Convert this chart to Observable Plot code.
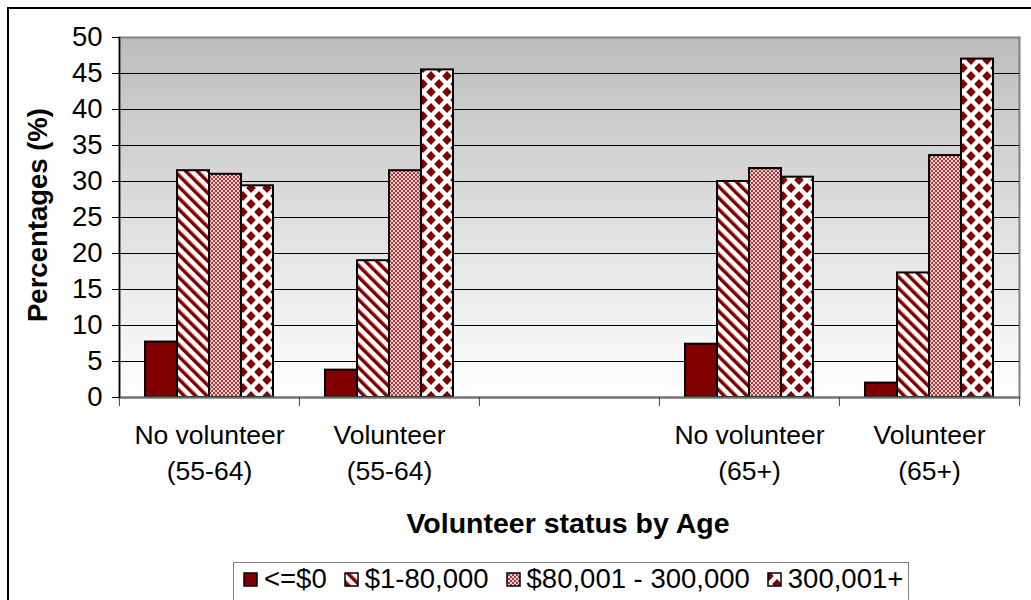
<!DOCTYPE html>
<html><head><meta charset="utf-8">
<script src="https://cdn.jsdelivr.net/npm/d3@7"></script>
<script src="https://cdn.jsdelivr.net/npm/@observablehq/plot@0.6"></script>
<style>
body{margin:0;background:#fff;font-family:"Liberation Sans",Arial,sans-serif;}
#wrap{position:relative;width:1031px;height:600px;overflow:hidden;background:#fff;}
#border{position:absolute;left:7px;top:7px;width:1200px;height:800px;border-left:2px solid #000;border-top:2px solid #000;}
#chart{position:absolute;left:0;top:0;}
#ytitle{position:absolute;left:38px;top:215px;transform:translate(-50%,-50%) rotate(-90deg);font-weight:bold;font-size:27.5px;white-space:nowrap;}
#xtitle{position:absolute;left:568px;top:523px;transform:translate(-50%,-50%);font-weight:bold;font-size:28.5px;white-space:nowrap;}
#legend{position:absolute;left:233px;top:562px;width:676px;height:60px;border:1px solid #808080;box-sizing:border-box;display:flex;align-items:flex-start;padding:1px 0 0 9px;background:#fff;}
.item{display:flex;align-items:center;height:30px;font-size:27.5px;margin-right:17px;white-space:nowrap;}
.item svg{margin-right:6px;}
</style></head>
<body>
<svg width="0" height="0" style="position:absolute">
<defs>
<linearGradient id="bgGrad" x1="0" y1="0" x2="0" y2="1">
<stop offset="0" stop-color="#bdbdbd"/><stop offset="1" stop-color="#ffffff"/>
</linearGradient>
<pattern id="stripes" patternUnits="userSpaceOnUse" width="8" height="8" patternTransform="rotate(-45)">
<rect width="8" height="8" fill="#fff"/><rect width="3.5" height="8" fill="#800000"/>
</pattern>
<pattern id="checker" patternUnits="userSpaceOnUse" width="4" height="4">
<rect x="0" y="0" width="4" height="4" fill="#ecd0d0"/>
<rect x="0" y="0" width="2" height="2" fill="#a83c3c"/>
<rect x="2" y="2" width="2" height="2" fill="#a83c3c"/>
</pattern>
<pattern id="diamonds" patternUnits="userSpaceOnUse" width="16" height="16" x="2" y="4">
<rect width="16" height="16" fill="#fff"/>
<path d="M0,-5L4.8,0L0,5L-4.8,0Z M16,-5L20.8,0L16,5L11.2,0Z M0,11L4.8,16L0,21L-4.8,16Z M16,11L20.8,16L16,21L11.2,16Z M8,3L12.8,8L8,13L3.2,8Z" fill="#800000"/>
</pattern>
</defs>
</svg>
<div id="wrap">
<div id="border"></div>
<div id="chart"></div>
<div id="ytitle">Percentages (%)</div>
<div id="xtitle">Volunteer status by Age</div>
<div id="legend"></div>
</div>
<script>
// ---- data ----
const categories = ["No volunteer\n(55-64)", "Volunteer\n(55-64)", " ", "No volunteer\n(65+)", "Volunteer\n(65+)"];
const incomeGroups = ["<=$0", "$1-80,000", "$80,001 - 300,000", "300,001+"];
const noVolunteer5564 = [7.7, 31.5, 31.0, 29.4];
const volunteer5564 = [3.8, 19.0, 31.5, 45.5];
const blankSlot = [null, null, null, null];
const noVolunteer65 = [7.4, 30.0, 31.8, 30.6];
const volunteer65 = [2.0, 17.3, 33.6, 47.0];
const yTicks = [0, 5, 10, 15, 20, 25, 30, 35, 40, 45, 50];

// ---- styles ----
const fills = ["#800000", "url(#stripes)", "url(#checker)", "url(#diamonds)"];

const series = [noVolunteer5564, volunteer5564, blankSlot, noVolunteer65, volunteer65];
const rows = categories.flatMap((c, i) => incomeGroups.map((g, j) => ({category: c, group: g, value: series[i][j]})));

const W = 1031, H = 500, ML = 118, MR = 12, MT = 37, MB = 103;
const band = (W - ML - MR) / categories.length;

const chart = Plot.plot({
  width: W, height: H,
  marginLeft: ML, marginRight: MR, marginTop: MT, marginBottom: MB,
  style: {fontFamily: "'Liberation Sans', Arial, sans-serif", fontSize: "26px", color: "#000", background: "transparent", overflow: "visible"},
  fx: {domain: categories, padding: 0, label: null},
  x: {domain: incomeGroups, paddingInner: 0, paddingOuter: 0.75, axis: null},
  y: {domain: [0, 50], label: null},
  color: {type: "ordinal", domain: incomeGroups, range: fills},
  marks: [
    Plot.frame({facet: "super", fill: "url(#bgGrad)", stroke: "#808080", strokeWidth: 2}),
    Plot.ruleY(yTicks.filter(d => d > 0 && d < 50), {stroke: "#000", strokeWidth: 1}),
    Plot.barY(rows, {fx: "category", x: "group", y: "value", fill: "group", stroke: "#000", strokeWidth: 2}),
    Plot.ruleY([0], {stroke: "#707070", strokeWidth: 2}),
    Plot.frame({facet: "super", anchor: "left", stroke: "#000", strokeWidth: 1.5}),
    Plot.axisY({ticks: yTicks, tickSize: 7, tickPadding: 10, fontSize: 27.5, label: null, stroke: "#000"}),
    Plot.axisFx({anchor: "bottom", tickSize: 0, tickPadding: 21, fontSize: 26.5, lineHeight: 1.36, label: null}),
    Plot.axisFx({anchor: "bottom", tickSize: 9, tickFormat: () => "", dx: -band / 2, label: null, stroke: "#404040"}),
    Plot.axisFx({anchor: "bottom", ticks: [categories[categories.length - 1]], tickSize: 9, tickFormat: () => "", dx: band / 2, label: null, stroke: "#404040"})
  ]
});
document.getElementById("chart").appendChild(chart);

// ---- legend ----
const legend = document.getElementById("legend");
incomeGroups.forEach((g, i) => {
  const item = document.createElement("div");
  item.className = "item";
  item.innerHTML = `<svg width="15" height="15"><rect x="1" y="1" width="13" height="13" fill="${fills[i]}" stroke="#000" stroke-width="1.5"/></svg><span>${g.replace("<", "&lt;")}</span>`;
  legend.appendChild(item);
});
</script>
</body></html>
